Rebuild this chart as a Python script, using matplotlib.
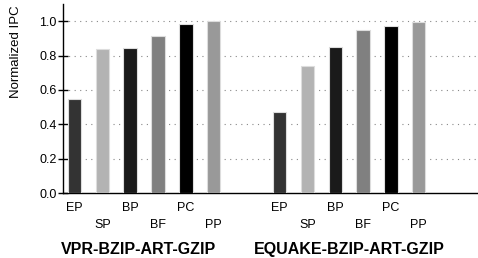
import matplotlib.pyplot as plt
import numpy as np

plt.rcParams['font.family'] = ['Liberation Sans', 'DejaVu Sans']

# data
configs = ['EP', 'SP', 'BP', 'BF', 'PC', 'PP']
groups = ['VPR-BZIP-ART-GZIP', 'EQUAKE-BZIP-ART-GZIP']
vpr_ipc = [0.546, 0.840, 0.846, 0.916, 0.982, 1.0]
equake_ipc = [0.470, 0.741, 0.849, 0.947, 0.973, 0.994]
bar_colors = ['#333333', '#b3b3b3', '#1a1a1a', '#808080', '#000000', '#999999']

fig = plt.figure(figsize=(4.78, 2.58), dpi=100)
ax = fig.add_axes([63/478, 65/258, 1 - 63/478, 189/258])

x1 = np.arange(len(configs))
x2 = x1 + 7.37
for xs, vals in [(x1, vpr_ipc), (x2, equake_ipc)]:
    ax.bar(xs, vals, width=0.48, color=bar_colors, edgecolor='#dddddd', linewidth=0.8, zorder=3)

ax.set_xlim(-0.414, 14.5)
ax.set_ylim(0, 1.1)
ax.set_yticks([0, 0.2, 0.4, 0.6, 0.8, 1.0])
ax.set_yticklabels(['0.0', '0.2', '0.4', '0.6', '0.8', '1.0'], fontsize=9)
ax.tick_params(axis='y', direction='inout', length=7, width=1, pad=1)

xt = np.concatenate([x1, x2])
ax.set_xticks(xt)
ax.set_xticklabels(configs * 2, fontsize=9)
ax.tick_params(axis='x', length=0)
for i, t in enumerate(ax.xaxis.get_major_ticks()):
    t.set_pad(6.5 if i % 2 == 0 else 19)

for yv in [0.2, 0.4, 0.6, 0.8, 1.0]:
    ax.axhline(yv, color='#888888', linestyle=(0, (1, 4)), linewidth=0.8, zorder=1)

ax.spines['top'].set_visible(False)
ax.spines['right'].set_visible(False)
ax.spines['left'].set_linewidth(1)
ax.spines['bottom'].set_linewidth(1)

ax.text(2.3, -0.33, groups[0], ha='center', va='center', fontsize=11.5, fontweight='bold', clip_on=False)
ax.text(x2.mean(), -0.33, groups[1], ha='center', va='center', fontsize=11.5, fontweight='bold', clip_on=False)

fig.text(16/478, 1 - 52/258, 'Normalized IPC', rotation=90, ha='center', va='center', fontsize=9.5)

fig.savefig('out.png', dpi=100)
